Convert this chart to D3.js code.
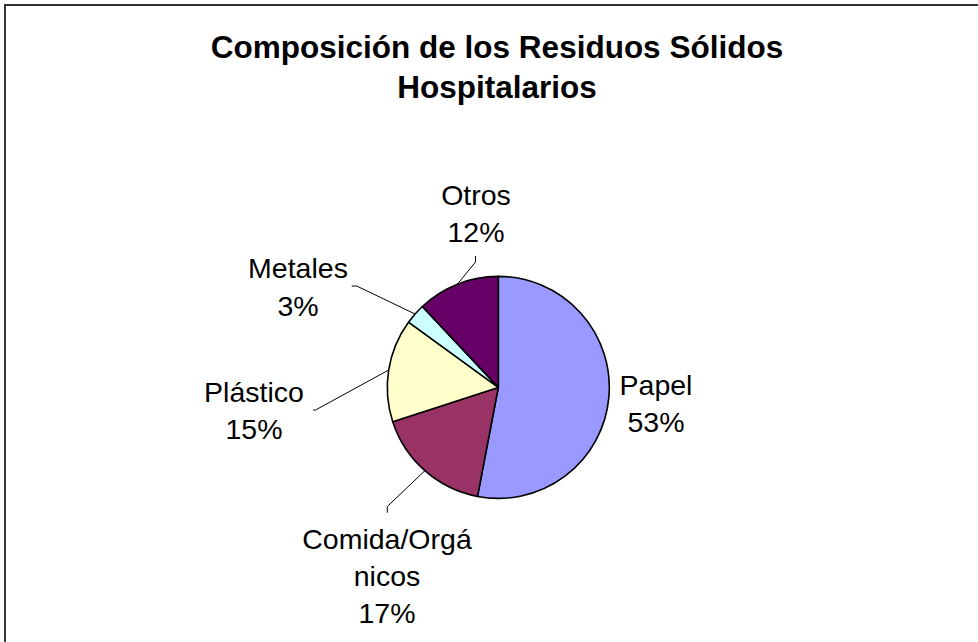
<!DOCTYPE html>
<html>
<head>
<meta charset="utf-8">
<script src="https://cdn.jsdelivr.net/npm/d3@7"></script>
<style>
  body { margin: 0; background: #fff; }
  svg { display: block; }
  text { font-family: "Liberation Sans", Arial, sans-serif; fill: #000; }
</style>
</head>
<body>
<div id="chart"></div>
<script>
// data
const categories = ['Papel', 'Comida/Orgánicos', 'Plástico', 'Metales', 'Otros'];
const values = [53, 17, 15, 3, 12];
const colors = ['#9999ff', '#993366', '#ffffcc', '#ccffff', '#660066'];
const labelLines = [
  ['Papel', '53%'],
  ['Comida/Orgá', 'nicos', '17%'],
  ['Plástico', '15%'],
  ['Metales', '3%'],
  ['Otros', '12%']
];
const titleLines = ['Composición de los Residuos Sólidos', 'Hospitalarios'];

// layout
const W = 978, H = 642;
const cx = 498.3, cy = 387.4, R = 111;
const fs = 28.5, lh = 37.3;
// label anchor (centre x, first baseline y) and leader elbow point
const labelPos = [
  {x: 656, y: 395, leader: null},
  {x: 387, y: 548.5, leader: [[387.3, 512.7], [387.3, 506.5]]},
  {x: 254, y: 401.7, leader: [[313, 410], [315.5, 410]]},
  {x: 298, y: 278.3, leader: [[351.7, 286], [356.7, 286]]},
  {x: 476, y: 205, leader: [[475.5, 256], [475.5, 262]]}
];

const svg = d3.select('#chart').append('svg').attr('width', W).attr('height', H);

svg.append('rect').attr('x', 5).attr('y', 5).attr('width', W + 10).attr('height', H + 10)
  .attr('fill', '#fff').attr('stroke', '#333').attr('stroke-width', 2);

svg.append('text').attr('text-anchor', 'middle')
  .style('font-weight', 'bold').style('font-size', '31.5px')
  .selectAll('tspan').data(titleLines).join('tspan')
  .attr('x', 497).attr('y', (d, i) => 58 + i * 40).text(d => d);

const pie = d3.pie().sort(null).value(d => d);
const arcs = pie(values);
const arc = d3.arc().innerRadius(0).outerRadius(R);
const edge = d3.arc().innerRadius(R).outerRadius(R);

const g = svg.append('g').attr('transform', `translate(${cx},${cy})`);
g.selectAll('path').data(arcs).join('path')
  .attr('d', arc)
  .attr('fill', (d, i) => colors[i])
  .attr('stroke', '#000').attr('stroke-width', 1.6).attr('stroke-linejoin', 'round');

// leader lines
const line = d3.line();
arcs.forEach((a, i) => {
  const lp = labelPos[i];
  if (!lp.leader) return;
  const c = edge.centroid(a);
  const pts = lp.leader.concat([[cx + c[0], cy + c[1]]]);
  svg.append('path').attr('d', line(pts))
    .attr('fill', 'none').attr('stroke', '#000').attr('stroke-width', 1);
});

// labels
labelLines.forEach((lines, i) => {
  const lp = labelPos[i];
  svg.append('text').attr('text-anchor', 'middle').style('font-size', fs + 'px')
    .selectAll('tspan').data(lines).join('tspan')
    .attr('x', lp.x).attr('y', (d, k) => lp.y + k * lh).text(d => d);
});
</script>
</body>
</html>
